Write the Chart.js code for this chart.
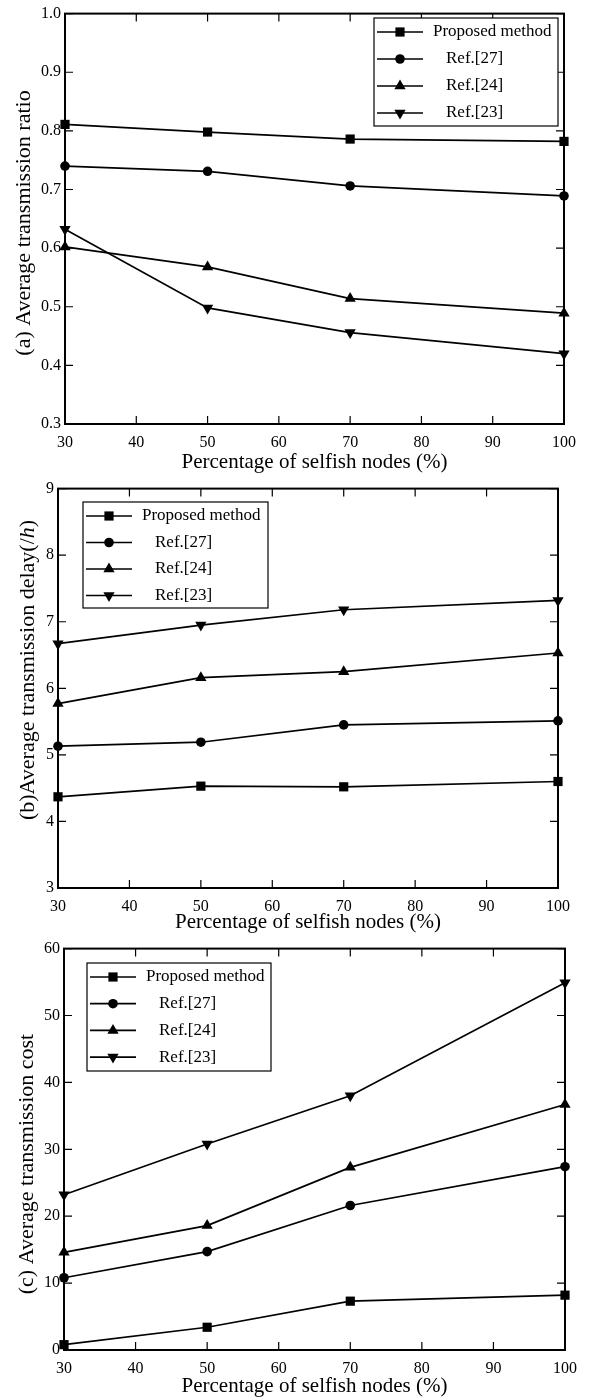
<!DOCTYPE html>
<html>
<head>
<meta charset="utf-8">
<title>Selfish nodes comparison</title>
<script src="https://cdn.jsdelivr.net/npm/chart.js@4.4.1/dist/chart.umd.min.js"></script>
<style>
    html, body { margin: 0; padding: 0; background: #fff; }
    #page { position: relative; width: 594px; height: 1399px; overflow: hidden; background: #fff; }
    #page canvas { position: absolute; left: 0; }
</style>
</head>
<body>
<div id="page">
    <canvas id="ratioChart" width="594" height="475" style="top:0px"></canvas>
    <canvas id="delayChart" width="594" height="460" style="top:475px"></canvas>
    <canvas id="costChart" width="594" height="464" style="top:935px"></canvas>
</div>
<script>
// x axis: share of selfish nodes
const xPercent = [30, 50, 70, 100];
const seriesNames = ['Proposed method', 'Ref.[27]', 'Ref.[24]', 'Ref.[23]'];

// (a) average transmission ratio
const ratioProposed = [0.811, 0.798, 0.786, 0.782];
const ratioRef27 = [0.740, 0.731, 0.706, 0.689];
const ratioRef24 = [0.602, 0.568, 0.514, 0.489];
const ratioRef23 = [0.632, 0.498, 0.456, 0.420];

// (b) average transmission delay (h)
const delayProposed = [4.37, 4.53, 4.52, 4.60];
const delayRef27 = [5.13, 5.19, 5.45, 5.51];
const delayRef24 = [5.77, 6.16, 6.25, 6.53];
const delayRef23 = [6.67, 6.95, 7.18, 7.32];

// (c) average transmission cost
const costProposed = [0.8, 3.4, 7.3, 8.2];
const costRef27 = [10.8, 14.7, 21.6, 27.4];
const costRef24 = [14.6, 18.6, 27.3, 36.7];
const costRef23 = [23.2, 30.8, 38.0, 54.9];

// marker look per series
const markerStyles = ['rect', 'circle', 'triangle', 'triangle'];
const markerRotations = [0, 0, 0, 180];
const markerRadii = [6.5, 4.8, 6.5, 6.5];

const SERIF = '"Liberation Serif", "Times New Roman", Times, serif';
Chart.defaults.font.family = SERIF;
Chart.defaults.color = '#000';

// same geometry chart.js uses for its point styles
function drawMarker(ctx, style, rotation, x, y, r) {
    const rad = rotation * Math.PI / 180;
    ctx.beginPath();
    if (style === 'circle') {
        ctx.arc(x, y, r, 0, Math.PI * 2);
    } else if (style === 'rect') {
        const s = r * Math.SQRT1_2;
        ctx.rect(x - s, y - s, 2 * s, 2 * s);
    } else {
        let a = rad;
        ctx.moveTo(x + Math.sin(a) * r, y - Math.cos(a) * r);
        a += Math.PI * 2 / 3;
        ctx.lineTo(x + Math.sin(a) * r, y - Math.cos(a) * r);
        a += Math.PI * 2 / 3;
        ctx.lineTo(x + Math.sin(a) * r, y - Math.cos(a) * r);
        ctx.closePath();
    }
    ctx.fill();
}

// closed frame with inward ticks on all four sides
const frameTicks = {
    id: 'frameTicks',
    beforeDatasetsDraw(chart) {
        const { ctx, chartArea: a, scales: { x, y } } = chart;
        const len = 8;
        ctx.save();
        ctx.strokeStyle = '#000';
        ctx.lineWidth = 1.2;
        ctx.beginPath();
        x.ticks.forEach(t => {
            const px = x.getPixelForValue(t.value);
            ctx.moveTo(px, a.bottom); ctx.lineTo(px, a.bottom - len);
            ctx.moveTo(px, a.top); ctx.lineTo(px, a.top + len);
        });
        y.ticks.forEach(t => {
            const py = y.getPixelForValue(t.value);
            ctx.moveTo(a.left, py); ctx.lineTo(a.left + len, py);
            ctx.moveTo(a.right, py); ctx.lineTo(a.right - len, py);
        });
        ctx.stroke();
        ctx.lineWidth = 2;
        ctx.strokeRect(a.left, a.top, a.right - a.left, a.bottom - a.top);
        ctx.restore();
    }
};

// boxed legend with line + marker samples
const boxLegend = {
    id: 'boxLegend',
    afterDraw(chart, args, opts) {
        const { ctx } = chart;
        ctx.save();
        ctx.fillStyle = '#fff';
        ctx.fillRect(opts.left, opts.top, opts.width, opts.height);
        ctx.strokeStyle = '#000';
        ctx.lineWidth = 1.2;
        ctx.strokeRect(opts.left, opts.top, opts.width, opts.height);
        ctx.font = '17px ' + SERIF;
        ctx.textBaseline = 'middle';
        chart.data.datasets.forEach((ds, i) => {
            const cy = opts.top + opts.firstRow + i * opts.rowGap;
            ctx.strokeStyle = '#000';
            ctx.lineWidth = 1.7;
            ctx.beginPath();
            ctx.moveTo(opts.left + 3, cy);
            ctx.lineTo(opts.left + 49, cy);
            ctx.stroke();
            ctx.fillStyle = '#000';
            drawMarker(ctx, ds.pointStyle, ds.pointRotation, opts.left + 26, cy, ds.pointRadius);
            ctx.fillText(ds.label, opts.left + 59 + (i === 0 ? 0 : 13), cy);
        });
        ctx.restore();
    }
};

// rotated y title, allows italic pieces
const yTitle = {
    id: 'yTitle',
    afterDraw(chart, args, opts) {
        const { ctx } = chart;
        ctx.save();
        ctx.translate(opts.x, opts.y);
        ctx.rotate(-Math.PI / 2);
        ctx.fillStyle = '#000';
        ctx.textBaseline = 'middle';
        const fonts = opts.parts.map(p => (p.italic ? 'italic ' : '') + opts.size + 'px ' + SERIF);
        let total = 0;
        const widths = opts.parts.map((p, i) => {
            ctx.font = fonts[i];
            const w = ctx.measureText(p.text).width;
            total += w;
            return w;
        });
        let cx = -total / 2;
        opts.parts.forEach((p, i) => {
            ctx.font = fonts[i];
            ctx.fillText(p.text, cx, 0);
            cx += widths[i];
        });
        ctx.restore();
    }
};

function lineSets(seriesList) {
    return seriesList.map((vals, i) => ({
        label: seriesNames[i],
        data: xPercent.map((x, j) => ({ x: x, y: vals[j] })),
        borderColor: '#000',
        backgroundColor: '#000',
        borderWidth: 1.7,
        tension: 0,
        clip: false,
        pointStyle: markerStyles[i],
        pointRotation: markerRotations[i],
        pointRadius: markerRadii[i],
        pointBorderWidth: 0
    }));
}

function makeChart(id, seriesList, yAxis, box, legendBox, titleCfg) {
    return new Chart(document.getElementById(id), {
        type: 'line',
        data: { datasets: lineSets(seriesList) },
        plugins: [frameTicks, boxLegend, yTitle],
        options: {
            responsive: false,
            animation: false,
            events: [],
            layout: { padding: { top: box.top, right: box.right, left: 0, bottom: 0 } },
            plugins: {
                legend: { display: false },
                tooltip: { enabled: false },
                boxLegend: legendBox,
                yTitle: titleCfg
            },
            scales: {
                x: {
                    type: 'linear',
                    min: 30, max: 100,
                    afterFit: s => { s.height = box.xHeight; },
                    grid: { display: false, drawTicks: false },
                    border: { display: false },
                    ticks: { stepSize: 10, padding: 9, font: { size: 16 }, color: '#000' },
                    title: {
                        display: true,
                        text: 'Percentage of selfish nodes (%)',
                        font: { size: 21, lineHeight: 1.2 },
                        color: '#000',
                        padding: { top: 0, bottom: 0 }
                    }
                },
                y: {
                    type: 'linear',
                    min: yAxis.min, max: yAxis.max,
                    afterFit: s => { s.width = box.yWidth; },
                    grid: { display: false, drawTicks: false },
                    border: { display: false },
                    ticks: {
                        stepSize: yAxis.step,
                        padding: 4,
                        font: { size: 16 },
                        color: '#000',
                        callback: v => v.toFixed(yAxis.decimals)
                    }
                }
            }
        }
    });
}

makeChart('ratioChart',
    [ratioProposed, ratioRef27, ratioRef24, ratioRef23],
    { min: 0.3, max: 1.0, step: 0.1, decimals: 1 },
    { top: 13, right: 30, yWidth: 65, xHeight: 51 },
    { left: 374, top: 18, width: 184, height: 108, firstRow: 14, rowGap: 27 },
    { x: 24, y: 223, size: 22, parts: [{ text: '(a) Average transmission ratio' }] });

makeChart('delayChart',
    [delayProposed, delayRef27, delayRef24, delayRef23],
    { min: 3, max: 9, step: 1, decimals: 0 },
    { top: 10, right: 36, yWidth: 58, xHeight: 47 },
    { left: 83, top: 27, width: 185, height: 106, firstRow: 14, rowGap: 26.5 },
    { x: 28, y: 195, size: 22, parts: [{ text: '(b)Average transmission delay(/' }, { text: 'h', italic: true }, { text: ')' }] });

makeChart('costChart',
    [costProposed, costRef27, costRef24, costRef23],
    { min: 0, max: 60, step: 10, decimals: 0 },
    { top: 8, right: 29, yWidth: 64, xHeight: 49 },
    { left: 87, top: 28, width: 184, height: 108, firstRow: 14, rowGap: 26.7 },
    { x: 27, y: 229, size: 22, parts: [{ text: '(c) Average transmission cost' }] });
</script>
</body>
</html>
